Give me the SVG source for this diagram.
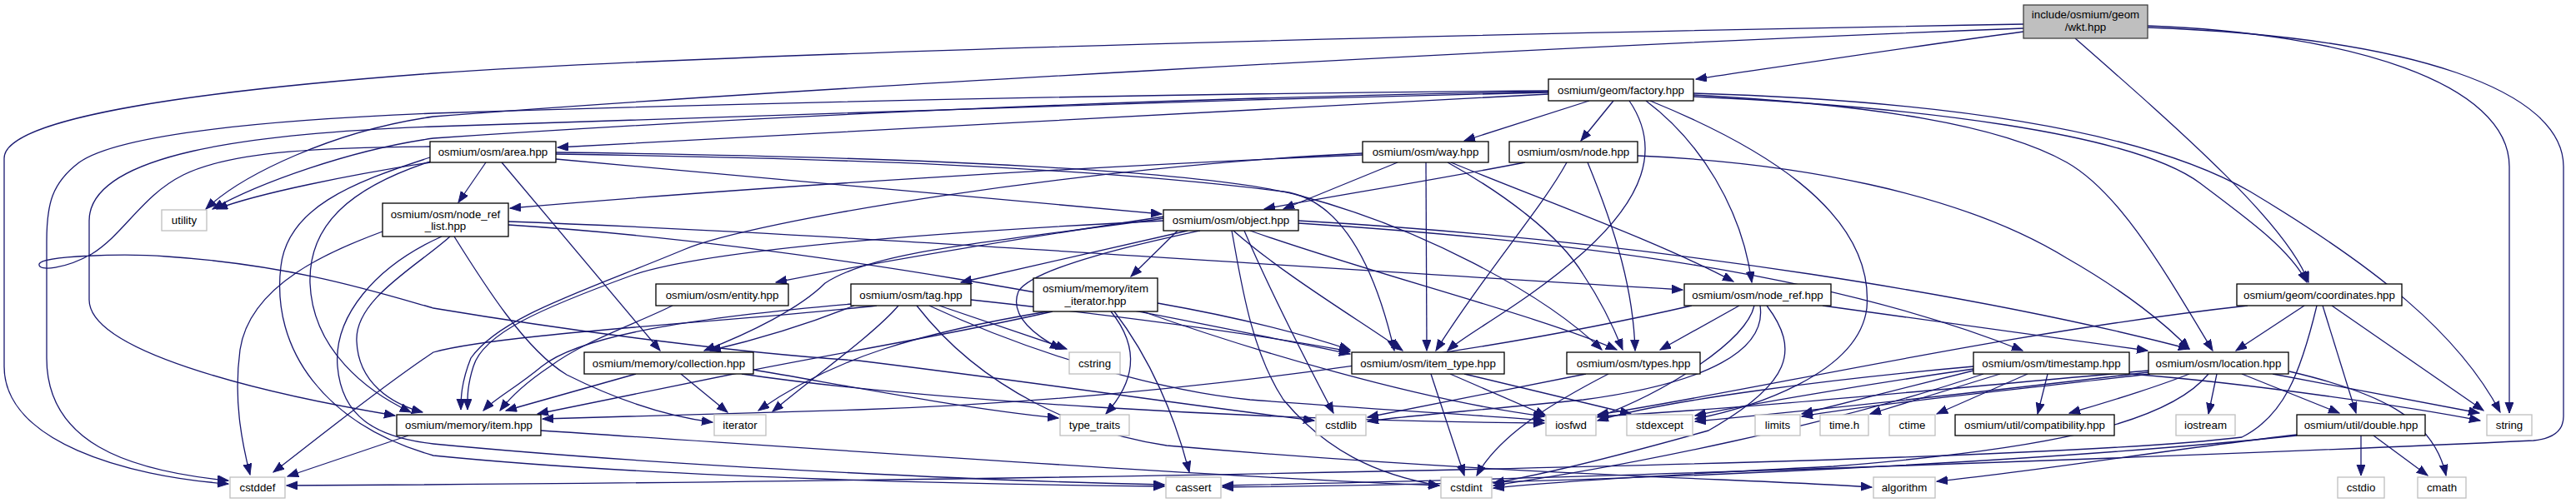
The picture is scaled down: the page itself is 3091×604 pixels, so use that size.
<svg xmlns="http://www.w3.org/2000/svg" width="3091" height="604" viewBox="0 0 3091 604">
<defs>
<marker id="ah" markerUnits="userSpaceOnUse" markerWidth="14" markerHeight="11" refX="13" refY="5" orient="auto">
<path d="M0,0 L13,5 L0,10 z" fill="#191970" stroke="#191970" stroke-width="1"/>
</marker>
</defs>
<style>
.e path{fill:none;stroke:#191970;stroke-width:1.3;marker-end:url(#ah)}
.n rect{fill:#fff;stroke:#000;stroke-width:1.3}
.x rect{fill:#fff;stroke:#bfbfbf;stroke-width:1.3}
.r rect{fill:#bfbfbf;stroke:#404040;stroke-width:1.3}
text{font-family:"Liberation Sans",Arial,Helvetica,sans-serif;font-size:13.3px;text-anchor:middle;fill:#000}
</style>
<rect width="3091" height="604" fill="#fff"/>
<g class="e" id="edges">
<path d="M2428,38 C2300,55 2150,78 2035,95"/>
<path d="M2490,46 C2620,160 2745,270 2770,339"/>
<path d="M2577,31 C2820,40 3011,100 3011,200 L3011,496"/>
<path d="M2577,33 C2900,45 3076,110 3076,200 L3076,500 C3076,520 3060,527 3040,529 C2700,545 1900,575 1467,583"/>
<path d="M2428,29 C1800,40 900,62 520,88 C250,108 5,140 5,190 L5,440 C5,530 150,572 274,581"/>
<path d="M2428,34 C1800,58 900,110 520,140 C400,157 290,210 247,251"/>
<path d="M1858,110 C1400,117 900,140 520,166 C420,180 310,220 255,251"/>
<path d="M1858,109 C1300,113 800,127 520,136 C300,145 140,163 95,195 C62,220 56,245 56,290 L56,430 C56,530 150,565 274,577"/>
<path d="M1858,111 C1400,121 900,138 520,152 C300,160 107,185 107,265 L107,360 C107,420 300,470 474,499"/>
<path d="M1858,113 C1600,125 1000,160 669,177"/>
<path d="M1907,121 L1757,169"/>
<path d="M1936,121 L1897,169"/>
<path d="M1955,121 C1995,180 1970,240 1900,303 C1830,365 1760,400 1737,421"/>
<path d="M1975,121 C2040,170 2090,250 2102,339"/>
<path d="M2032,114 C2250,126 2400,150 2480,195 C2545,232 2600,330 2655,421"/>
<path d="M2032,116 C2300,128 2560,160 2640,220 C2700,265 2748,300 2768,339"/>
<path d="M2032,112 C2300,120 2560,150 2700,230 C2850,320 2950,400 3000,495"/>
<path d="M1980,121 C2100,170 2250,250 2240,370 C2230,450 2100,490 2034,503"/>
<path d="M516,195 C420,210 310,232 260,251"/>
<path d="M583,195 L550,243"/>
<path d="M602,195 L792,421"/>
<path d="M667,191 L1394,257"/>
<path d="M667,185 C1000,190 1300,200 1540,230 C1600,238 1645,300 1673,421"/>
<path d="M667,183 C1100,188 1450,205 1560,235 C1700,272 1850,350 1922,420"/>
<path d="M519,193 C420,225 370,270 372,340 C375,420 440,470 493,495"/>
<path d="M516,189 C420,220 345,250 337,320 C325,420 390,510 520,547 C800,575 1200,582 1397,584"/>
<path d="M516,176 C400,177 280,180 220,210 C170,235 150,280 110,305 C80,322 45,327 47,317 C50,307 150,304 200,308 C350,318 450,350 520,370 C700,400 900,425 1030,433 C1250,460 1450,490 1577,505"/>
<path d="M1677,195 L1540,251"/>
<path d="M1635,186 C1300,200 900,225 612,250"/>
<path d="M1635,184 C1300,200 900,265 820,300 C700,350 600,380 565,430 C553,460 553,480 553,492"/>
<path d="M1711,195 L1712,421"/>
<path d="M1737,195 C1800,230 1870,280 1900,330 C1920,360 1935,390 1947,420"/>
<path d="M1741,195 C1850,240 1990,290 2080,338"/>
<path d="M1830,195 C1700,220 1600,235 1517,251"/>
<path d="M1880,195 C1850,250 1780,330 1723,421"/>
<path d="M1905,195 C1940,280 1960,350 1962,421"/>
<path d="M1965,187 C2150,195 2350,230 2480,310 C2550,350 2600,390 2627,419"/>
<path d="M1397,262 C1200,290 1050,300 990,340 C960,370 900,400 845,421"/>
<path d="M1397,265 C1100,280 850,300 760,330 C650,370 580,400 568,440 C560,465 561,480 561,492"/>
<path d="M1413,277 L1357,332"/>
<path d="M1397,260 C1200,290 1050,315 931,339"/>
<path d="M1425,277 L1153,339"/>
<path d="M1440,277 C1380,290 1240,320 1222,350 C1210,380 1245,405 1273,419"/>
<path d="M1480,277 C1540,330 1640,390 1683,421"/>
<path d="M1500,277 C1650,330 1850,380 1940,420"/>
<path d="M1558,268 C1900,290 2200,330 2427,421"/>
<path d="M1558,265 C2000,290 2400,360 2627,419"/>
<path d="M1478,277 C1488,330 1500,420 1540,480 C1590,540 1650,570 1727,583"/>
<path d="M1493,277 C1520,340 1560,420 1600,496"/>
<path d="M540,284 C500,320 425,360 428,410 C430,460 470,485 507,495"/>
<path d="M530,284 C450,320 400,380 405,440 C410,500 450,525 520,533 C800,560 1200,578 1397,582"/>
<path d="M459,278 C400,300 300,340 288,420 C280,480 290,530 300,570"/>
<path d="M545,284 C580,340 630,420 680,450 C740,480 800,500 855,507"/>
<path d="M610,266 C1000,280 1500,318 2019,348"/>
<path d="M610,270 C1000,295 1400,380 1620,425"/>
<path d="M807,367 C760,390 700,410 660,440 C630,460 610,480 600,493"/>
<path d="M1022,365 C850,380 700,400 650,440 C620,465 592,480 580,493"/>
<path d="M1025,367 C980,385 920,405 852,421"/>
<path d="M1052,367 C900,385 600,400 520,423 C450,470 370,535 328,567"/>
<path d="M1078,367 C1050,400 980,450 927,494"/>
<path d="M1127,367 L1280,419"/>
<path d="M1165,360 C1350,380 1500,400 1620,422"/>
<path d="M1100,367 C1180,470 1300,520 1400,535 C1800,570 2100,575 2246,585"/>
<path d="M1115,367 C1250,430 1400,470 1500,480 C1700,495 1800,500 1853,505"/>
<path d="M1263,374 C1150,400 1000,425 900,445 C800,465 700,485 645,497"/>
<path d="M1389,364 C1480,380 1560,400 1620,420"/>
<path d="M1263,373 C1100,400 1000,430 910,493"/>
<path d="M1333,374 C1370,420 1360,460 1327,497"/>
<path d="M1337,374 C1380,430 1410,500 1427,567"/>
<path d="M1368,373 C1500,420 1700,480 1853,500"/>
<path d="M763,449 L607,493"/>
<path d="M817,449 L873,495"/>
<path d="M904,444 C1000,460 1150,490 1270,502"/>
<path d="M890,449 C1100,480 1500,505 1853,508"/>
<path d="M490,523 L345,572"/>
<path d="M649,517 C1000,540 1500,575 1727,583"/>
<path d="M1717,449 L1757,571"/>
<path d="M1740,449 L1855,499"/>
<path d="M1757,449 L1957,497"/>
<path d="M1930,449 C1870,480 1800,520 1772,571"/>
<path d="M1903,449 C1800,470 1700,490 1641,501"/>
<path d="M2187,367 L2577,421"/>
<path d="M2087,367 L1992,420"/>
<path d="M2030,367 C1800,420 1400,480 1030,492 C900,496 750,500 651,503"/>
<path d="M2105,367 C2095,410 2000,470 1917,501"/>
<path d="M2112,367 C2120,420 2050,460 1900,480 C1750,495 1680,500 1641,506"/>
<path d="M2120,367 C2160,420 2150,460 2050,517 C1950,545 1850,570 1792,580"/>
<path d="M2368,445 L2162,497"/>
<path d="M2400,449 L2244,497"/>
<path d="M2433,449 L2324,497"/>
<path d="M2457,449 L2445,497"/>
<path d="M2368,440 C2200,455 2000,480 1917,505"/>
<path d="M2368,443 C2250,460 2100,485 2034,499"/>
<path d="M2380,449 C2200,510 1950,560 1792,583"/>
<path d="M2555,449 C2700,460 2900,490 2976,505"/>
<path d="M2660,449 L2650,497"/>
<path d="M2690,449 L2807,496"/>
<path d="M2727,449 L2975,496"/>
<path d="M2747,446 C2850,470 2920,500 2935,571"/>
<path d="M2627,449 C2600,460 2540,480 2483,496"/>
<path d="M2578,445 C2300,470 2100,490 1917,500"/>
<path d="M2578,447 C2300,480 2150,495 2034,506"/>
<path d="M2580,449 C2400,470 2250,485 2162,500"/>
<path d="M2650,449 C2600,510 2450,540 2200,560 C2000,570 1850,580 1792,586"/>
<path d="M2765,367 L2683,421"/>
<path d="M2787,367 L2827,496"/>
<path d="M2798,367 L2980,493"/>
<path d="M2697,367 C2400,400 2100,470 1917,498"/>
<path d="M2780,367 C2760,450 2740,500 2690,525 C2400,560 1000,580 344,583"/>
<path d="M2833,523 L2833,571"/>
<path d="M2848,523 L2913,571"/>
<path d="M2756,522 C2600,540 2450,565 2324,578"/>
<path d="M2756,523 C2500,550 2000,580 1467,585"/>
</g>
<g id="wkt" class="r"><rect x="2428" y="6" width="149" height="40"/><text x="2502.5" y="21.5">include/osmium/geom</text><text x="2502.5" y="36.5">/wkt.hpp</text></g>
<g id="factory" class="n"><rect x="1858" y="95" width="174" height="26"/><text x="1945" y="112.5">osmium/geom/factory.hpp</text></g>
<g id="way" class="n"><rect x="1635" y="170" width="151" height="25"/><text x="1710.5" y="187">osmium/osm/way.hpp</text></g>
<g id="node" class="n"><rect x="1811" y="170" width="154" height="25"/><text x="1888" y="187">osmium/osm/node.hpp</text></g>
<g id="area" class="n"><rect x="516" y="170" width="151" height="25"/><text x="591.5" y="187">osmium/osm/area.hpp</text></g>
<g id="utility" class="x"><rect x="194" y="252" width="54" height="25"/><text x="221" y="269">utility</text></g>
<g id="node_ref_list" class="n"><rect x="459" y="244" width="151" height="40"/><text x="534.5" y="261.5">osmium/osm/node_ref</text><text x="534.5" y="275.5">_list.hpp</text></g>
<g id="object" class="n"><rect x="1396" y="252" width="162" height="25"/><text x="1477" y="269">osmium/osm/object.hpp</text></g>
<g id="entity" class="n"><rect x="787" y="341" width="159" height="26"/><text x="866.5" y="358.5">osmium/osm/entity.hpp</text></g>
<g id="tag" class="n"><rect x="1021" y="341" width="144" height="26"/><text x="1093" y="358.5">osmium/osm/tag.hpp</text></g>
<g id="item_iterator" class="n"><rect x="1240" y="334" width="149" height="40"/><text x="1314.5" y="350.5">osmium/memory/item</text><text x="1314.5" y="365.5">_iterator.hpp</text></g>
<g id="node_ref" class="n"><rect x="2021" y="341" width="176" height="26"/><text x="2109" y="358.5">osmium/osm/node_ref.hpp</text></g>
<g id="coordinates" class="n"><rect x="2684" y="341" width="198" height="26"/><text x="2783" y="358.5">osmium/geom/coordinates.hpp</text></g>
<g id="collection" class="n"><rect x="701" y="423" width="203" height="26"/><text x="802.5" y="440.5">osmium/memory/collection.hpp</text></g>
<g id="item_type" class="n"><rect x="1622" y="423" width="183" height="26"/><text x="1713.5" y="440.5">osmium/osm/item_type.hpp</text></g>
<g id="types" class="n"><rect x="1880" y="423" width="160" height="26"/><text x="1960" y="440.5">osmium/osm/types.hpp</text></g>
<g id="timestamp" class="n"><rect x="2368" y="423" width="187" height="26"/><text x="2461.5" y="440.5">osmium/osm/timestamp.hpp</text></g>
<g id="location" class="n"><rect x="2578" y="423" width="168" height="26"/><text x="2662" y="440.5">osmium/osm/location.hpp</text></g>
<g id="cstring" class="x"><rect x="1283" y="423" width="61" height="26"/><text x="1313.5" y="440.5">cstring</text></g>
<g id="item" class="n"><rect x="476" y="498" width="173" height="25"/><text x="562.5" y="515">osmium/memory/item.hpp</text></g>
<g id="iterator" class="x"><rect x="857" y="498" width="62" height="25"/><text x="888" y="515">iterator</text></g>
<g id="type_traits" class="x"><rect x="1272" y="498" width="83" height="25"/><text x="1313.5" y="515">type_traits</text></g>
<g id="cstdlib" class="x"><rect x="1579" y="498" width="60" height="25"/><text x="1609" y="515">cstdlib</text></g>
<g id="iosfwd" class="x"><rect x="1855" y="498" width="60" height="25"/><text x="1885" y="515">iosfwd</text></g>
<g id="stdexcept" class="x"><rect x="1952" y="498" width="79" height="25"/><text x="1991.5" y="515">stdexcept</text></g>
<g id="limits" class="x"><rect x="2106" y="498" width="54" height="25"/><text x="2133" y="515">limits</text></g>
<g id="time_h" class="x"><rect x="2184" y="498" width="58" height="25"/><text x="2213" y="515">time.h</text></g>
<g id="ctime" class="x"><rect x="2267" y="498" width="55" height="25"/><text x="2294.5" y="515">ctime</text></g>
<g id="compatibility" class="n"><rect x="2346" y="498" width="191" height="25"/><text x="2441.5" y="515">osmium/util/compatibility.hpp</text></g>
<g id="iostream" class="x"><rect x="2611" y="498" width="71" height="25"/><text x="2646.5" y="515">iostream</text></g>
<g id="double" class="n"><rect x="2756" y="498" width="154" height="25"/><text x="2833" y="515">osmium/util/double.hpp</text></g>
<g id="string" class="x"><rect x="2984" y="498" width="54" height="25"/><text x="3011" y="515">string</text></g>
<g id="cstddef" class="x"><rect x="276" y="573" width="66" height="25"/><text x="309" y="590">cstddef</text></g>
<g id="cassert" class="x"><rect x="1399" y="573" width="66" height="25"/><text x="1432" y="590">cassert</text></g>
<g id="cstdint" class="x"><rect x="1729" y="573" width="61" height="25"/><text x="1759.5" y="590">cstdint</text></g>
<g id="algorithm" class="x"><rect x="2248" y="573" width="74" height="25"/><text x="2285" y="590">algorithm</text></g>
<g id="cstdio" class="x"><rect x="2805" y="573" width="56" height="25"/><text x="2833" y="590">cstdio</text></g>
<g id="cmath" class="x"><rect x="2901" y="573" width="58" height="25"/><text x="2930" y="590">cmath</text></g>
</svg>
